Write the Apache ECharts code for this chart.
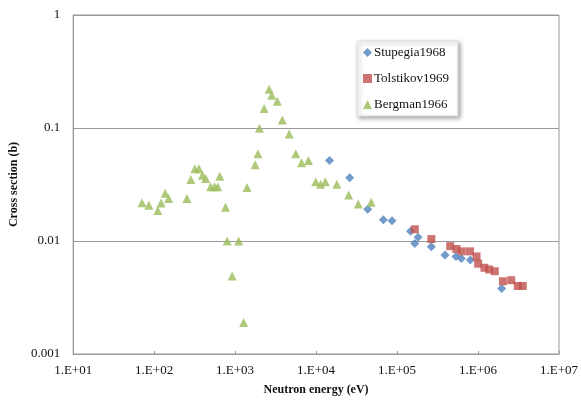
<!DOCTYPE html>
<html>
<head>
<meta charset="utf-8">
<script src="https://cdn.jsdelivr.net/npm/echarts@6/dist/echarts.min.js"></script>
<style>html,body{margin:0;padding:0;background:#fff}#c{width:581px;height:401px}</style>
</head>
<body>
<div id="c"></div>
<script>
// Stupegia1968 [energy eV, cross section b]
var stupegia = [
  [14660, 0.0517], [26000, 0.0362], [43400, 0.0191], [67800, 0.0154], [86700, 0.0151],
  [146600, 0.0122], [181700, 0.0108], [165600, 0.0095], [265200, 0.0089], [391000, 0.0075],
  [535000, 0.0073], [622000, 0.0070], [803000, 0.0068], [1960000, 0.0038]
];
// Tolstikov1969
var tolstikov = [
  [165600, 0.0127], [265200, 0.0104], [453000, 0.0090], [541000, 0.0085], [631000, 0.0081],
  [796000, 0.0081], [959000, 0.0073], [1005000, 0.0063], [1200000, 0.0058], [1370000, 0.0056],
  [1610000, 0.0054], [2030000, 0.0044], [2570000, 0.0045], [3100000, 0.0040], [3570000, 0.0040]
];
// Bergman1966
var bergman = [
  [70.7, 0.0218], [86.1, 0.0207], [111, 0.0186], [122, 0.0217], [137, 0.0264], [151, 0.0238],
  [254, 0.0238], [284, 0.0350], [318, 0.0437], [358, 0.0437], [395, 0.0382], [433, 0.0357],
  [499, 0.0302], [558, 0.0302], [612, 0.0302], [648, 0.0374], [761, 0.0199], [798, 0.0100],
  [919, 0.0049], [1107, 0.0100], [1274, 0.0019], [1403, 0.0298], [1771, 0.0474], [1914, 0.0591],
  [2000, 0.0994], [2285, 0.149], [2630, 0.220], [2838, 0.195], [3320, 0.1725], [3827, 0.118],
  [4660, 0.0886], [5620, 0.0591], [6610, 0.0493], [8050, 0.0517], [9890, 0.0334], [11380, 0.0318],
  [13000, 0.0334], [18030, 0.0318], [25290, 0.0255], [33200, 0.0212], [47950, 0.0220]
];
var seriesNames = ['Stupegia1968', 'Tolstikov1969', 'Bergman1966'];
var xTickLabels = ['1.E+01', '1.E+02', '1.E+03', '1.E+04', '1.E+05', '1.E+06', '1.E+07'];
var yTickLabels = ['0.001', '0.01', '0.1', '1'];
var xTitle = 'Neutron energy (eV)';
var yTitle = 'Cross section (b)';

var FONT = "'Liberation Serif', 'Times New Roman', serif";
var chart = echarts.init(document.getElementById('c'));
chart.setOption({
  animation: false,
  backgroundColor: '#fff',
  grid: { left: 71, right: 20, top: 15, bottom: 44, show: true, borderColor: '#999', borderWidth: 1, containLabel: false },
  legend: {
    orient: 'vertical', left: 357, top: 41,
    padding: [5, 9, 5, 6], itemGap: 13, itemWidth: 9, itemHeight: 9,
    backgroundColor: '#fff', borderColor: '#ddd', borderWidth: 1,
    shadowColor: 'rgba(0,0,0,0.35)', shadowBlur: 4, shadowOffsetX: 2, shadowOffsetY: 2,
    textStyle: { fontFamily: FONT, fontSize: 13, color: '#111', lineHeight: 13, padding: [0, 0, 0, -3] },
    data: seriesNames
  },
  xAxis: {
    type: 'log', logBase: 10, min: 10, max: 1e7, splitNumber: 6,
    name: xTitle, nameLocation: 'middle', nameGap: 30,
    nameTextStyle: { fontFamily: FONT, fontSize: 12, fontWeight: 'bold', color: '#111' },
    axisLine: { lineStyle: { color: '#999' } },
    axisTick: { inside: true, length: 3, lineStyle: { color: '#999' } },
    splitLine: { show: false },
    axisLabel: {
      fontFamily: FONT, fontSize: 13, color: '#111', margin: 10,
      formatter: function (v) { return xTickLabels[Math.round(Math.log10(v)) - 1]; }
    }
  },
  yAxis: {
    type: 'log', logBase: 10, min: 0.001, max: 1, splitNumber: 3,
    name: yTitle, nameLocation: 'middle', nameGap: 50,
    nameTextStyle: { fontFamily: FONT, fontSize: 12, fontWeight: 'bold', color: '#111' },
    axisLine: { lineStyle: { color: '#999' } },
    axisTick: { show: false },
    splitLine: { show: true, lineStyle: { color: '#999', width: 1 } },
    axisLabel: {
      fontFamily: FONT, fontSize: 13, color: '#111', margin: 13,
      formatter: function (v) { return yTickLabels[Math.round(Math.log10(v)) + 3]; }
    }
  },
  series: [
    { name: seriesNames[0], type: 'scatter', symbol: 'diamond', symbolSize: 9, itemStyle: { color: '#4F81BD' }, data: stupegia },
    { name: seriesNames[1], type: 'scatter', symbol: 'rect', symbolSize: 8, itemStyle: { color: '#C0504D' }, data: tolstikov },
    { name: seriesNames[2], type: 'scatter', symbol: 'triangle', symbolSize: 9, itemStyle: { color: '#9BBB59' }, data: bergman }
  ]
});
</script>
</body>
</html>
